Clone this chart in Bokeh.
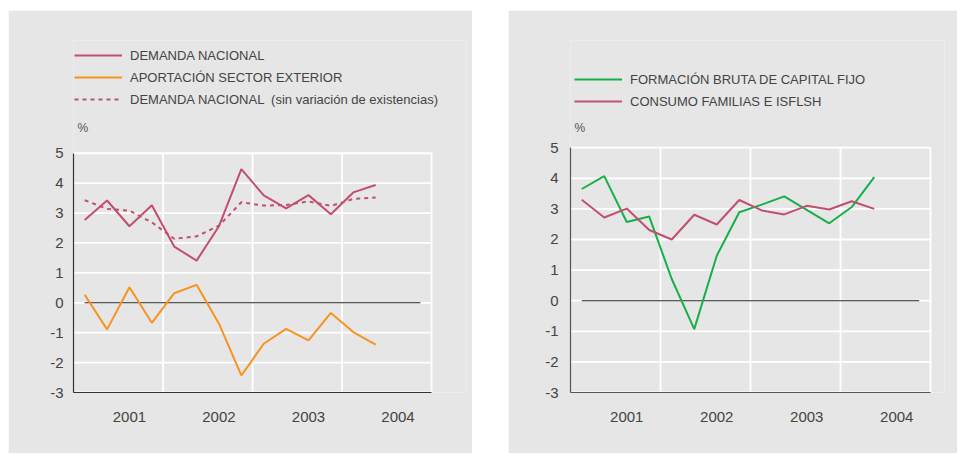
from bokeh.plotting import figure
from bokeh.models import Range1d, FixedTicker, Legend, LegendItem, Label, Spacer
from bokeh.layouts import row, column
from bokeh.embed import file_html
from bokeh.resources import INLINE

# ---------------- data ----------------
years = ["2001", "2002", "2003", "2004"]
quarters = ["2001-I", "2001-II", "2001-III", "2001-IV",
            "2002-I", "2002-II", "2002-III", "2002-IV",
            "2003-I", "2003-II", "2003-III", "2003-IV",
            "2004-I", "2004-II"]
y_ticks = [-3, -2, -1, 0, 1, 2, 3, 4, 5]

demanda_nacional = [2.77, 3.42, 2.56, 3.26, 1.88, 1.41, 2.56,
                    4.47, 3.59, 3.16, 3.60, 2.96, 3.69, 3.94]
aportacion_exterior = [0.27, -0.89, 0.52, -0.67, 0.32, 0.60, -0.70,
                       -2.43, -1.37, -0.87, -1.26, -0.34, -0.98, -1.40]
demanda_sin_existencias = [3.43, 3.14, 3.08, 2.69, 2.14, 2.22, 2.58,
                           3.36, 3.25, 3.27, 3.39, 3.24, 3.47, 3.52]

fbcf = [3.65, 4.07, 2.57, 2.75, 0.71, -0.93, 1.47,
        2.89, 3.14, 3.41, 2.97, 2.53, 3.06, 4.04]
consumo = [3.30, 2.72, 3.01, 2.31, 2.00, 2.81, 2.49,
           3.29, 2.95, 2.82, 3.10, 2.98, 3.25, 3.00]

# ---------------- style ----------------
BG = "#e6e6e6"
TXT = "#444444"
PINK = "#c0506e"
ORANGE = "#f7931e"
GREEN = "#16b04a"
FONT = "Liberation Sans"

n_years = len(years)
x_q = [(i + 0.5) / 4 for i in range(len(quarters))]
n_full = n_years * 4
x_zero = [0.5 / 4, (n_full - 0.5) / 4]
year_pos = [i + 0.625 for i in range(n_years)]
year_edges = list(range(1, n_years + 1))


def make_fig(frame_w, frame_h, x_end, y_end, b_left, b_top, b_right, b_bottom,
             y_standoff, axis_color, pct_offset):
    p = figure(output_backend="svg", toolbar_location=None,
               frame_width=frame_w, frame_height=frame_h,
               min_border_left=b_left, min_border_top=b_top,
               min_border_right=b_right, min_border_bottom=b_bottom,
               x_range=Range1d(0, x_end),
               y_range=Range1d(y_ticks[0], y_end))
    p.background_fill_color = BG
    p.border_fill_color = BG
    p.outline_line_color = None
    p.xgrid.visible = False
    p.ygrid.visible = False

    p.xaxis.ticker = FixedTicker(ticks=year_pos)
    p.xaxis.major_label_overrides = {yp: yr for yp, yr in zip(year_pos, years)}
    p.yaxis.ticker = FixedTicker(ticks=y_ticks)
    p.yaxis.major_label_overrides = {t: str(t) for t in y_ticks}
    p.xaxis.bounds = (0, n_years)
    p.yaxis.bounds = (y_ticks[0], y_ticks[-1])
    for ax in (p.xaxis, p.yaxis):
        ax.major_tick_line_color = None
        ax.minor_tick_line_color = None
        ax.major_tick_in = 0
        ax.major_tick_out = 0
        ax.axis_line_color = axis_color
        ax.axis_line_width = 1.2
        ax.major_label_text_font = FONT
        ax.major_label_text_font_size = "15px"
        ax.major_label_text_color = TXT
    p.xaxis.major_label_standoff = 19
    p.yaxis.major_label_standoff = y_standoff

    # white grid limited to the data area
    p.segment(x0=year_edges, y0=y_ticks[0], x1=year_edges, y1=y_ticks[-1],
              line_color="white", line_width=1.8)
    p.segment(x0=0, y0=y_ticks, x1=n_years, y1=y_ticks,
              line_color="white", line_width=1.8)

    p.line(x_zero, [0, 0], line_color="#222222", line_width=1.1)

    p.add_layout(Label(x=0, y=y_ticks[-1], text="%", x_offset=4, y_offset=pct_offset,
                       text_font=FONT, text_font_size="12px", text_color="#555555",
                       text_baseline="bottom"))
    return p


def style_legend(leg):
    leg.background_fill_alpha = 0
    leg.border_line_color = None
    leg.padding = 0
    leg.margin = 0
    leg.spacing = 2
    leg.glyph_width = 48
    leg.glyph_height = 20
    leg.label_height = 20
    leg.label_standoff = 8
    leg.label_text_font = FONT
    leg.label_text_font_size = "13px"
    leg.label_text_color = TXT


# ---------------- left chart ----------------
p1 = make_fig(393, 352, 4.39, 8.77, 65, 30, 6, 61, 10, "#333333", 18)
r1 = p1.line(x_q, demanda_nacional, line_color=PINK, line_width=2)
r2 = p1.line(x_q, aportacion_exterior, line_color=ORANGE, line_width=2)
r3 = p1.line(x_q, demanda_sin_existencias, line_color=PINK, line_width=2,
             line_dash="4 4")
leg1 = Legend(items=[LegendItem(label="DEMANDA NACIONAL", renderers=[r1]),
                     LegendItem(label="APORTACIÓN SECTOR EXTERIOR", renderers=[r2]),
                     LegendItem(label="DEMANDA NACIONAL  (sin variación de existencias)",
                                renderers=[r3])],
              location=(1, 283))
style_legend(leg1)
p1.add_layout(leg1)

# ---------------- right chart ----------------
p2 = make_fig(374, 352, 4.1556, 8.503, 62, 30, 13, 61, 12, "#555555", 13)
s1 = p2.line(x_q, fbcf, line_color=GREEN, line_width=2)
s2 = p2.line(x_q, consumo, line_color=PINK, line_width=2)
leg2 = Legend(items=[LegendItem(label="FORMACIÓN BRUTA DE CAPITAL FIJO", renderers=[s1]),
                     LegendItem(label="CONSUMO FAMILIAS E ISFLSH", renderers=[s2])],
              location=(4, 281))
style_legend(leg2)
p2.add_layout(leg2)

layout = column(Spacer(height=10),
                row(Spacer(width=8), p1, Spacer(width=36), p2, spacing=0),
                spacing=0)

open("out.html", "w").write(file_html(layout, INLINE))
